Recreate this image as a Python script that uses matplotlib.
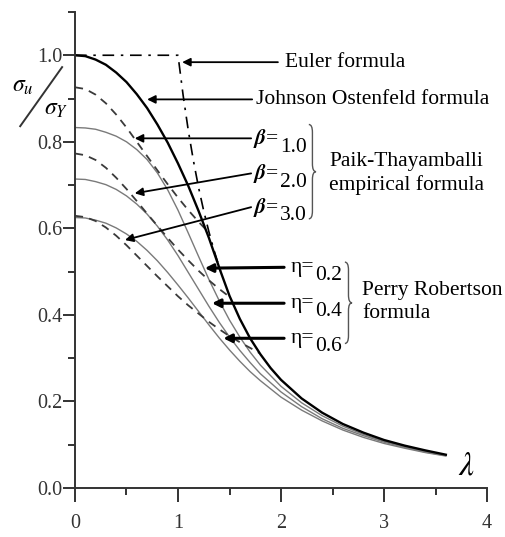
import numpy as np
import matplotlib
matplotlib.use("Agg")
import matplotlib.pyplot as plt
from matplotlib.path import Path
from matplotlib.patches import PathPatch
from matplotlib.lines import Line2D
from matplotlib.ticker import MultipleLocator

plt.rcParams['font.family'] = ['Liberation Serif', 'DejaVu Serif']
plt.rcParams['mathtext.fontset'] = 'stix'

# Johnson Ostenfeld (thick solid)
lam_jo = [0, 0.1, 0.2, 0.3, 0.4, 0.5, 0.6, 0.7, 0.8, 0.9, 1.0, 1.1, 1.2, 1.3, 1.414, 1.5,
          1.6, 1.7, 1.8, 1.9, 2.0, 2.2, 2.4, 2.6, 2.8, 3.0, 3.2, 3.4, 3.6]
jo = [1.0, 0.998, 0.99, 0.978, 0.96, 0.938, 0.91, 0.878, 0.84, 0.798, 0.75, 0.698, 0.64,
      0.578, 0.50, 0.444, 0.391, 0.346, 0.309, 0.277, 0.25, 0.207, 0.174, 0.148, 0.128,
      0.111, 0.098, 0.087, 0.077]

# Euler (dash-dot)
lam_eu = [0, 1.0, 1.05, 1.1, 1.15, 1.2, 1.25, 1.3, 1.35, 1.414]
euler = [1.0, 1.0, 0.907, 0.826, 0.756, 0.694, 0.64, 0.592, 0.549, 0.50]

# Perry Robertson (thin grey solid)
lam_pr = [0, 0.1, 0.2, 0.3, 0.4, 0.5, 0.6, 0.7, 0.8, 0.9, 1.0, 1.1, 1.2, 1.3, 1.4, 1.5, 1.6,
          1.7, 1.8, 2.0, 2.2, 2.4, 2.6, 2.8, 3.0, 3.2, 3.4, 3.6]
pr_02 = [0.833, 0.832, 0.829, 0.822, 0.813, 0.800, 0.782, 0.759, 0.728, 0.689, 0.642, 0.589,
         0.535, 0.482, 0.433, 0.388, 0.349, 0.314, 0.284, 0.235, 0.197, 0.167, 0.143, 0.124,
         0.108, 0.096, 0.085, 0.076]
pr_04 = [0.714, 0.713, 0.708, 0.701, 0.690, 0.675, 0.656, 0.633, 0.605, 0.573, 0.537, 0.498,
         0.459, 0.420, 0.383, 0.349, 0.318, 0.290, 0.264, 0.222, 0.188, 0.160, 0.138, 0.121,
         0.106, 0.094, 0.083, 0.075]
pr_06 = [0.625, 0.624, 0.619, 0.612, 0.601, 0.587, 0.570, 0.549, 0.525, 0.498, 0.469, 0.439,
         0.408, 0.377, 0.347, 0.319, 0.293, 0.269, 0.248, 0.210, 0.180, 0.155, 0.134, 0.117,
         0.103, 0.092, 0.082, 0.074]

# Paik-Thayamballi (dashed)
lam_pt1 = [0, 0.1, 0.2, 0.3, 0.4, 0.5, 0.6, 0.7, 0.8, 0.9, 1.0, 1.1, 1.2, 1.304]
pt_1 = [0.926, 0.922, 0.909, 0.889, 0.863, 0.833, 0.800, 0.767, 0.734, 0.702, 0.671, 0.642,
        0.615, 0.589]
lam_pt2 = [0, 0.1, 0.2, 0.3, 0.4, 0.5, 0.6, 0.7, 0.8, 0.9, 1.0, 1.1, 1.2, 1.3, 1.4, 1.51]
pt_2 = [0.773, 0.769, 0.758, 0.740, 0.717, 0.691, 0.663, 0.634, 0.606, 0.578, 0.551, 0.526,
        0.502, 0.480, 0.460, 0.440]
lam_pt3 = [0, 0.1, 0.2, 0.3, 0.4, 0.5, 0.6, 0.7, 0.8, 0.9, 1.0, 1.1, 1.2, 1.3, 1.4, 1.5, 1.6, 1.79]
pt_3 = [0.629, 0.626, 0.617, 0.602, 0.583, 0.561, 0.537, 0.513, 0.489, 0.466, 0.443, 0.422,
        0.403, 0.384, 0.367, 0.351, 0.337, 0.312]

beta_labels = ['1.0', '2.0', '3.0']
eta_labels = ['0.2', '0.4', '0.6']

fig = plt.figure(figsize=(5.05, 5.37), dpi=100)
ax = fig.add_axes([0.1485, 0.0912, 0.8159, 0.8865])

grey = '#7a7a7a'
ax.plot(lam_pr, pr_02, color=grey, lw=1.0)
ax.plot(lam_pr, pr_04, color=grey, lw=1.0)
ax.plot(lam_pr, pr_06, color=grey, lw=1.0)
for l, v in [(lam_pt1, pt_1), (lam_pt2, pt_2), (lam_pt3, pt_3)]:
    ax.plot(l, v, color='#3a3a3a', lw=1.3, dashes=(4.5, 3.5))
ax.plot(lam_eu, euler, color='black', lw=1.2, dashes=(7, 4, 1.5, 4))
ax.plot(lam_jo, jo, color='black', lw=1.7)

ax.set_xlim(0, 4)
ax.set_ylim(0, 1.1)
for s in ['top', 'right']:
    ax.spines[s].set_visible(False)
for s in ['left', 'bottom']:
    ax.spines[s].set_linewidth(1.4)
    ax.spines[s].set_color('#333333')
ax.set_xticks([0, 1, 2, 3, 4])
ax.set_yticks([0, 0.2, 0.4, 0.6, 0.8, 1.0])
ax.set_yticklabels(['0.0', '0.2', '0.4', '0.6', '0.8', '1.0'])
ax.xaxis.set_minor_locator(MultipleLocator(0.5))
ax.yaxis.set_minor_locator(MultipleLocator(0.1))
ax.tick_params(axis='x', which='major', length=10, width=1.4, pad=9, labelsize=14.5, colors='#333333')
ax.tick_params(axis='x', which='minor', length=5, width=1.4, colors='#333333')
ax.tick_params(axis='y', which='major', length=9, width=1.4, pad=0, labelsize=14.5, colors='#333333')
ax.tick_params(axis='y', which='minor', length=5, width=1.4, colors='#333333')

fs = 15.5
arrow_thin = dict(arrowstyle='-|>', color='black', lw=1.3, mutation_scale=12, shrinkA=0, shrinkB=0)
arrow_thick = dict(arrowstyle='-|>', color='black', lw=2.2, mutation_scale=12, shrinkA=0, shrinkB=0)

# Euler / Johnson labels
ax.annotate('', xy=(1.04, 0.984), xytext=(1.97, 0.984), arrowprops=arrow_thin)
ax.text(2.04, 0.984, 'Euler formula', fontsize=fs, va='center', ha='left')
ax.annotate('', xy=(0.70, 0.898), xytext=(1.72, 0.898), arrowprops=arrow_thin)
ax.text(1.76, 0.898, 'Johnson Ostenfeld formula', fontsize=fs, va='center', ha='left')

# beta labels
beta_tips = [(0.58, 0.808), (0.58, 0.681), (0.485, 0.573)]
beta_y = [0.808, 0.727, 0.649]
for lab, tip, yb in zip(beta_labels, beta_tips, beta_y):
    ax.annotate('', xy=tip, xytext=(1.71, yb), arrowprops=arrow_thin)
    ax.text(1.73, yb, r'$\boldsymbol{\beta}$=', fontsize=fs, va='center', ha='left')
    ax.text(1.99, yb - 0.02, lab, fontsize=fs, va='center', ha='left')


def brace(x, y0, y1, w=0.07, h=0.018):
    ym = (y0 + y1) / 2
    verts = [(x, y1), (x + w / 2, y1), (x + w / 2, y1 - h), (x + w / 2, ym + h),
             (x + w / 2, ym), (x + w, ym), (x + w / 2, ym), (x + w / 2, ym - h),
             (x + w / 2, y0 + h), (x + w / 2, y0), (x, y0)]
    codes = [Path.MOVETO, Path.CURVE3, Path.CURVE3, Path.LINETO, Path.CURVE3, Path.CURVE3,
             Path.CURVE3, Path.CURVE3, Path.LINETO, Path.CURVE3, Path.CURVE3]
    ax.add_patch(PathPatch(Path(verts, codes), fill=False, lw=1.0, color='#555555'))


brace(2.27, 0.622, 0.840)
ax.text(2.47, 0.754, 'Paik-Thayamballi', fontsize=fs, va='center', ha='left')
ax.text(2.47, 0.700, 'empirical formula', fontsize=fs, va='center', ha='left')

# eta labels
eta_tips = [(1.26, 0.508), (1.33, 0.427), (1.44, 0.346)]
eta_y = [0.510, 0.427, 0.346]
for lab, tip, ye in zip(eta_labels, eta_tips, eta_y):
    ax.annotate('', xy=tip, xytext=(2.03, ye), arrowprops=arrow_thick)
    ax.text(2.09, ye, 'η=', fontsize=fs, va='center', ha='left')
    ax.text(2.33, ye - 0.02, lab, fontsize=fs, va='center', ha='left')

brace(2.62, 0.334, 0.522)
ax.text(2.79, 0.457, 'Perry Robertson', fontsize=fs, va='center', ha='left')
ax.text(2.79, 0.404, 'formula', fontsize=fs, va='center', ha='left')

# axis labels
ax.text(3.8, 0.05, r'$\lambda$', fontsize=24, va='center', ha='center')
fig.text(0.046, 0.838, r'$\sigma_u$', fontsize=17, va='center', ha='center')
fig.text(0.112, 0.797, r'$\sigma_Y$', fontsize=17, va='center', ha='center')
fig.add_artist(Line2D([0.040, 0.123], [0.765, 0.875], transform=fig.transFigure,
                      color='#333333', lw=1.4))

fig.savefig('out.png', dpi=100)
